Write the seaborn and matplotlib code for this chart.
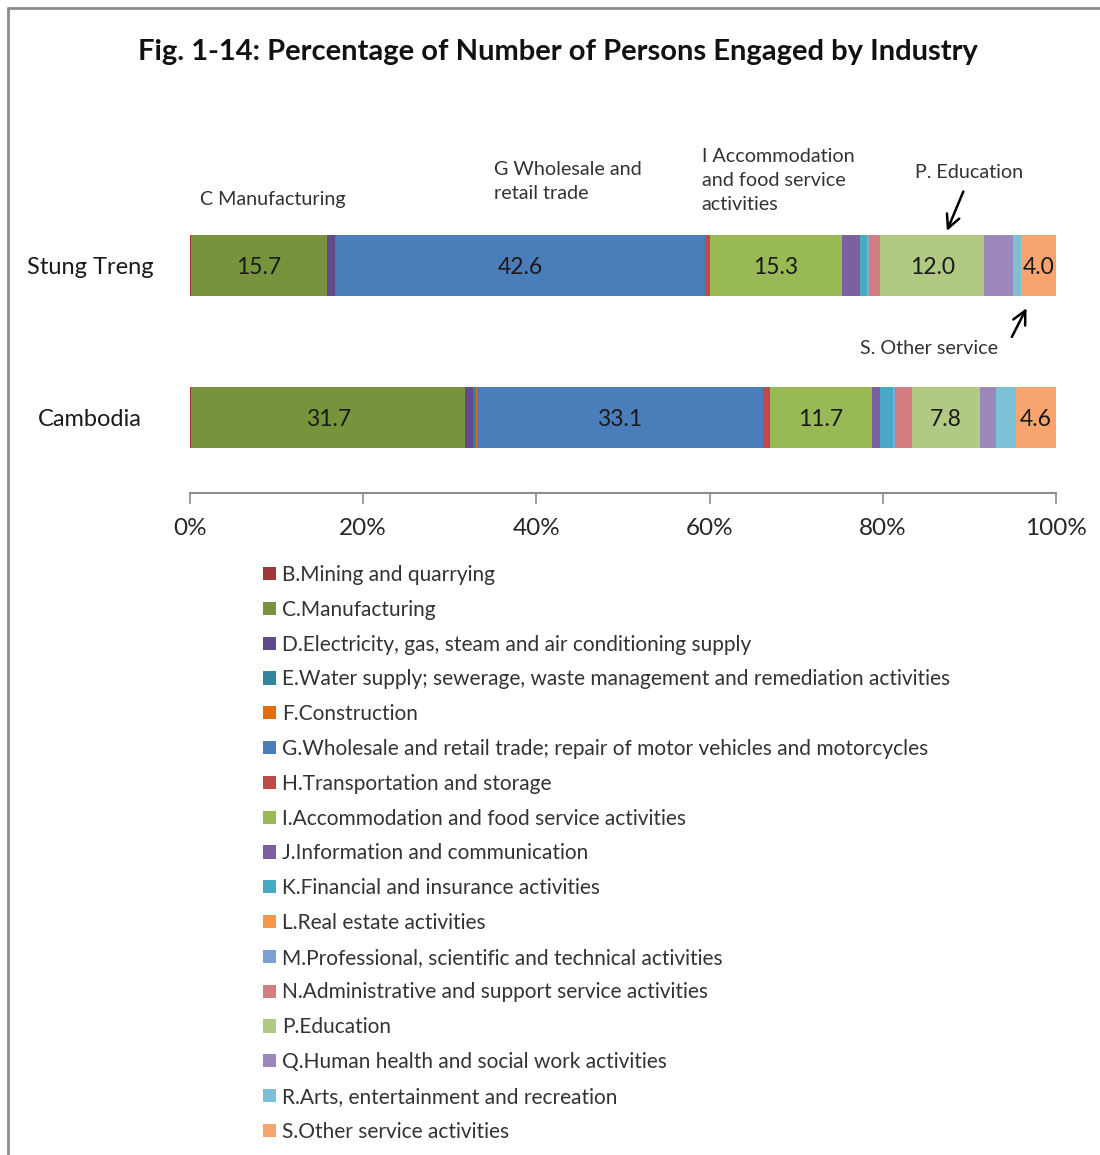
import numpy as np
import pandas as pd
import matplotlib
matplotlib.use("Agg")
from matplotlib import pyplot as plt
from matplotlib.patches import Patch
from matplotlib.lines import Line2D
import seaborn as sns

countries = ['Stung Treng', 'Cambodia']
codes = ['B', 'C', 'D', 'E', 'F', 'G', 'H', 'I', 'J', 'K', 'L', 'M', 'N', 'P', 'Q', 'R', 'S']
industries = [
    'B.Mining and quarrying',
    'C.Manufacturing',
    'D.Electricity, gas, steam and air conditioning supply',
    'E.Water supply; sewerage, waste management and remediation activities',
    'F.Construction',
    'G.Wholesale and retail trade; repair of motor vehicles and motorcycles',
    'H.Transportation and storage',
    'I.Accommodation and food service activities',
    'J.Information and communication',
    'K.Financial and insurance activities',
    'L.Real estate activities',
    'M.Professional, scientific and technical activities',
    'N.Administrative and support service activities',
    'P.Education',
    'Q.Human health and social work activities',
    'R.Arts, entertainment and recreation',
    'S.Other service activities',
]
stung_treng = [0.1, 15.7, 1.0, 0.1, 0.0, 42.6, 0.5, 15.3, 2.1, 0.8, 0.1, 0.2, 1.2, 12.0, 3.3, 1.0, 4.0]
cambodia = [0.1, 31.7, 0.9, 0.3, 0.1, 33.1, 0.8, 11.7, 1.0, 1.5, 0.1, 0.1, 2.0, 7.8, 1.9, 2.3, 4.6]
labelled = ['C', 'G', 'I', 'P', 'S']

colors = ['#A0363A', '#77933C', '#5F4B8B', '#31859C', '#E46C0A', '#4A7EBB', '#BE4B48',
          '#98B954', '#7D60A0', '#46AAC5', '#F79646', '#7E9FD1', '#D27E80', '#B1CA83',
          '#9C88BA', '#7CC0D6', '#F7A46F']

df = pd.DataFrame({'code': codes * 2,
                   'country': [countries[0]] * len(codes) + [countries[1]] * len(codes),
                   'value': stung_treng + cambodia})
df['cum'] = df.groupby('country')['value'].cumsum()

sns.set_style('white')
plt.rcParams['font.family'] = ['Lato', 'DejaVu Sans']

fig = plt.figure(figsize=(11, 11.55), dpi=100)
ax = fig.add_axes([190 / 1100, 1 - 493 / 1155, 866 / 1100, 303 / 1155])

# stacked bars: draw cumulative totals from the last segment backwards
for code, col in reversed(list(zip(codes, colors))):
    sub = df[df['code'] == code]
    sns.barplot(data=sub, x='cum', y='country', order=countries, orient='h',
                color=col, saturation=1, width=0.4, linewidth=0, edgecolor='none', ax=ax)

for _, row in df.iterrows():
    if row['code'] in labelled:
        yi = countries.index(row['country'])
        ax.text(row['cum'] - row['value'] / 2, yi, f"{row['value']:.1f}",
                ha='center', va='center_baseline', fontsize=16.5, color='#1a1a1a')

ax.set_xlim(0, 100)
ax.set_ylim(1.5, -0.5)
ax.set_xlabel('')
ax.set_ylabel('')
ax.set_xticks(np.arange(0, 101, 20))
ax.set_xticklabels([f'{t}%' for t in range(0, 101, 20)], fontsize=17.5)
ax.tick_params(axis='x', bottom=True, direction='out', length=8, color='#8c8c8c',
               width=1.2, pad=10)
ax.tick_params(axis='y', left=False, labelleft=False)
for s in ['top', 'right', 'left']:
    ax.spines[s].set_visible(False)
ax.spines['bottom'].set_color('#8c8c8c')
ax.spines['bottom'].set_linewidth(1.5)

for i, c in enumerate(countries):
    ax.text(-0.1155, i, c, transform=ax.get_yaxis_transform(), ha='center',
            va='center_baseline', fontsize=17, color='#1a1a1a')

# annotations
ann_kw = dict(fontsize=14.2, color='#333333', ha='left', va='center', linespacing=1.5)
ax.text(1.2, -0.44, 'C Manufacturing', **ann_kw)
ax.text(35.1, -0.553, 'G Wholesale and\nretail trade', **ann_kw)
ax.text(59.1, -0.566, 'I Accommodation\nand food service\nactivities', **ann_kw)
ax.text(83.7, -0.615, 'P. Education', **ann_kw)
ax.text(77.4, 0.545, 'S. Other service', **ann_kw)
arrow_kw = dict(arrowstyle='->', color='black', lw=1.8, mutation_scale=24,
                shrinkA=0, shrinkB=0)
ax.annotate('', xy=(87.4, -0.23), xytext=(89.3, -0.49), annotation_clip=False,
            arrowprops=arrow_kw)
ax.annotate('', xy=(96.6, 0.28), xytext=(94.9, 0.47), annotation_clip=False,
            arrowprops=arrow_kw)

fig.text(0.507, 1 - 52 / 1155, 'Fig. 1-14: Percentage of Number of Persons Engaged by Industry',
         ha='center', va='center', fontsize=21, fontweight='bold', color='#111111')

handles = [Patch(facecolor=c, edgecolor='none') for c in colors]
fig.legend(handles, industries, loc='upper left', bbox_to_anchor=(263 / 1100, 1 - 565 / 1155),
           frameon=False, fontsize=15, handlelength=0.6, handleheight=0.6,
           handletextpad=0.3, labelspacing=0.71, borderpad=0, borderaxespad=0,
           labelcolor='#333333')

fig.add_artist(Line2D([8 / 1100, 8 / 1100], [0, 1 - 8 / 1155], transform=fig.transFigure,
                      color='#8c8c8c', lw=2))
fig.add_artist(Line2D([8 / 1100, 1], [1 - 8 / 1155, 1 - 8 / 1155], transform=fig.transFigure,
                      color='#8c8c8c', lw=2))

fig.savefig('out.png', dpi=100)
